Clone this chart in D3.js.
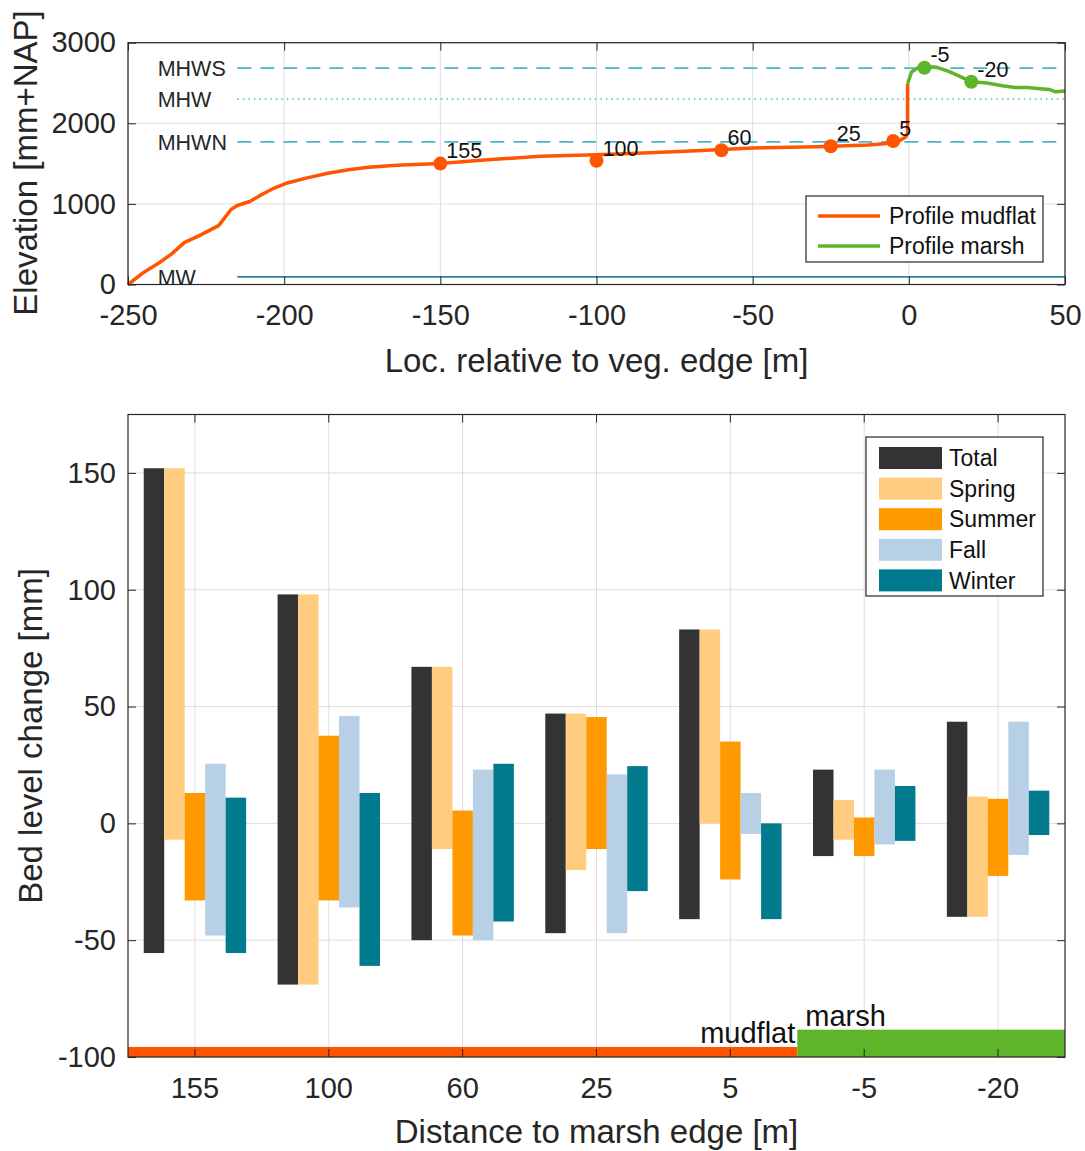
<!DOCTYPE html>
<html>
<head>
<meta charset="utf-8">
<script src="https://cdn.jsdelivr.net/npm/d3@7"></script>
<style>
  body { margin: 0; background: #fff; }
  svg { font-family: "Liberation Sans", Arial, Helvetica, sans-serif; }
  .grid line { stroke: #dedede; stroke-width: 1; }
  .axis text { fill: #262626; }
  .axis line { stroke: #262626; }
</style>
</head>
<body>
<svg id="chart"></svg>
<script>
// ---- top panel data: cross-shore profile ----
const profileMudflat = [[-250,0],[-245,150],[-240,270],[-236,380],[-232,520],[-227,610],[-221,730],[-219,830],[-217,930],[-215,980],[-211,1030],[-207,1120],[-203,1200],[-199,1260],[-193,1320],[-186,1380],[-180,1420],[-173,1455],[-164,1480],[-150,1500],[-136,1545],[-118,1590],[-100,1610],[-85,1630],[-68,1660],[-50,1695],[-29,1710],[-13,1730],[-7,1750],[-3,1785],[-1,1830],[-0.4,1880],[-0.4,2490]];
const profileMarsh = [[-0.4,2490],[0.9,2640],[3,2690],[6,2705],[9,2695],[13,2640],[17,2570],[20,2515],[25,2500],[30,2465],[34,2445],[38,2445],[42,2430],[45,2420],[47,2390],[50,2400]];
const markerX = [-150, -100, -60, -25, -5, 5, 20];
const markerY = [1500, 1535, 1665, 1715, 1780, 2690, 2515];
const markerLabels = ["155", "100", "60", "25", "5", "-5", "-20"];
const levelNames = ["MHWS", "MHW", "MHWN", "MW"];
const levelValues = [2685, 2300, 1770, 95];
const levelStyles = ["dash", "dot", "dash", "solid"];
const topXTicks = [-250, -200, -150, -100, -50, 0, 50];
const topYTicks = [0, 1000, 2000, 3000];

// ---- bottom panel data: bed level change ranges ----
const categories = ["155", "100", "60", "25", "5", "-5", "-20"];
const seasons = ["Total", "Spring", "Summer", "Fall", "Winter"];
const totalHigh  = [152, 98, 67, 47, 83, 23, 43.5];
const totalLow   = [-55.5, -69, -50, -47, -41, -14, -40];
const springHigh = [152, 98, 67, 47, 83, 10, 11.5];
const springLow  = [-7, -69, -11, -20, 0, -7, -40];
const summerHigh = [13, 37.5, 5.5, 45.5, 35, 2.5, 10.5];
const summerLow  = [-33, -33, -48, -11, -24, -14, -22.5];
const fallHigh   = [25.5, 46, 23, 21, 13, 23, 43.5];
const fallLow    = [-48, -36, -50, -47, -4.5, -9, -13.5];
const winterHigh = [11, 13, 25.5, 24.5, 0, 16, 14];
const winterLow  = [-55.5, -61, -42, -29, -41, -7.5, -5];
const zoneNames = ["mudflat", "marsh"];
const zoneFrom = ["155", "-5"];
const zoneTo = ["5", "-20"];
const zoneTop = [-95.7, -88.3];
const bottomYTicks = [-100, -50, 0, 50, 100, 150];

const seriesHigh = [totalHigh, springHigh, summerHigh, fallHigh, winterHigh];
const seriesLow = [totalLow, springLow, summerLow, fallLow, winterLow];
const seasonColors = ["#333333", "#ffcc80", "#ff9900", "#b7d0e6", "#007a8c"];
const orange = "#ff5500";
const green = "#5fb52a";
const textColor = "#262626";
const plainNum = d => String(d); // matlab style: hyphen minus, no thousands sep

const svg = d3.select("#chart")
    .attr("width", 1085)
    .attr("height", 1151);

svg.append("rect").attr("width", 1085).attr("height", 1151).attr("fill", "#fff");

// ================= TOP PANEL =================
var m1 = { left: 128, top: 42.7 };
var w1 = 937, h1 = 241.8;
const g1 = svg.append("g").attr("transform", `translate(${m1.left},${m1.top})`);

const x1 = d3.scaleLinear().domain([-250, 50]).range([0, w1]);
const y1 = d3.scaleLinear().domain([0, 3000]).range([h1, 0]);

// grid
g1.append("g").attr("class", "grid")
    .selectAll("line").data(topXTicks).join("line")
    .attr("x1", d => x1(d)).attr("x2", d => x1(d))
    .attr("y1", 0).attr("y2", h1);
g1.append("g").attr("class", "grid")
    .selectAll("line").data(topYTicks).join("line")
    .attr("x1", 0).attr("x2", w1)
    .attr("y1", d => y1(d)).attr("y2", d => y1(d));

// tide levels
levelNames.forEach(function (name, i) {
    const yy = y1(levelValues[i]);
    const ln = g1.append("line")
        .attr("x1", x1(-215)).attr("x2", w1)
        .attr("y1", yy).attr("y2", yy)
        .attr("stroke", levelStyles[i] == "solid" ? "#2a8396" : "#4fb4c8")
        .attr("stroke-width", levelStyles[i] == "dot" ? 1.5 : 1.8);
    if (levelStyles[i] == "dash") ln.attr("stroke-dasharray", "14,9");
    if (levelStyles[i] == "dot") ln.attr("stroke-dasharray", "1.5,4");
    g1.append("text")
        .attr("x", x1(-240.5))
        .attr("y", yy)
        .attr("dy", "0.36em")
        .attr("font-size", 21.5)
        .attr("fill", textColor)
        .text(name);
});

// profile lines
const line1 = d3.line().x(d => x1(d[0])).y(d => y1(d[1]));
g1.append("path").datum(profileMudflat)
    .attr("d", line1).attr("fill", "none")
    .attr("stroke", orange).attr("stroke-width", 3.5)
    .attr("stroke-linejoin", "round");
g1.append("path").datum(profileMarsh)
    .attr("d", line1).attr("fill", "none")
    .attr("stroke", green).attr("stroke-width", 3.5)
    .attr("stroke-linejoin", "round");

// markers + labels
markerX.forEach(function (mx, i) {
    g1.append("circle")
        .attr("cx", x1(mx)).attr("cy", y1(markerY[i]))
        .attr("r", 7)
        .attr("fill", mx < 0 ? orange : green);
    g1.append("text")
        .attr("x", x1(mx) + 6)
        .attr("y", y1(markerY[i]) - 13)
        .attr("dy", "0.36em")
        .attr("font-size", 21.5)
        .attr("fill", "#111")
        .text(markerLabels[i]);
});

// axes (ticks inside, box)
g1.append("g").attr("class", "axis")
    .attr("transform", `translate(0,${h1})`)
    .call(d3.axisBottom(x1).tickValues(topXTicks).tickFormat(plainNum).tickSize(-8).tickPadding(20))
    .call(g => g.select(".domain").remove())
    .selectAll("text").attr("font-size", 29).attr("font-family", null);
g1.append("g").attr("class", "axis")
    .call(d3.axisTop(x1).tickValues(topXTicks).tickSize(-8).tickFormat(""))
    .call(g => g.select(".domain").remove());
g1.append("g").attr("class", "axis")
    .call(d3.axisLeft(y1).tickValues(topYTicks).tickFormat(plainNum).tickSize(-8).tickPadding(12))
    .call(g => g.select(".domain").remove())
    .selectAll("text").attr("font-size", 29).attr("font-family", null);
g1.append("g").attr("class", "axis")
    .attr("transform", `translate(${w1},0)`)
    .call(d3.axisRight(y1).tickValues(topYTicks).tickSize(-8).tickFormat(""))
    .call(g => g.select(".domain").remove());
g1.append("rect")
    .attr("width", w1).attr("height", h1)
    .attr("fill", "none").attr("stroke", "#262626").attr("stroke-width", 1.2);

// legend top
const leg1 = g1.append("g").attr("transform", `translate(${806 - m1.left},${196 - m1.top})`);
leg1.append("rect").attr("width", 237).attr("height", 66)
    .attr("fill", "#fff").attr("stroke", "#262626").attr("stroke-width", 1.2);
[["Profile mudflat", orange], ["Profile marsh", green]].forEach(function (d, i) {
    const yy = 20 + i * 30;
    leg1.append("line").attr("x1", 12).attr("x2", 74)
        .attr("y1", yy).attr("y2", yy)
        .attr("stroke", d[1]).attr("stroke-width", 3.5);
    leg1.append("text").attr("x", 83).attr("y", yy).attr("dy", "0.36em")
        .attr("font-size", 23).attr("fill", "#111").text(d[0]);
});

// axis labels top
svg.append("text")
    .attr("x", m1.left + w1 / 2).attr("y", 360).attr("dy", "0.36em")
    .attr("text-anchor", "middle").attr("font-size", 33).attr("fill", textColor)
    .text("Loc. relative to veg. edge [m]");
svg.append("text")
    .attr("transform", "translate(25,163) rotate(-90)")
    .attr("dy", "0.36em")
    .attr("text-anchor", "middle").attr("font-size", 33).attr("fill", textColor)
    .text("Elevation [mm+NAP]");

// ================= BOTTOM PANEL =================
var m2 = { left: 128, top: 414.5 };
var w2 = 937, h2 = 642.5;
const g2 = svg.append("g").attr("transform", `translate(${m2.left},${m2.top})`);

const x2 = d3.scaleBand().domain(categories).range([0, w2]).padding(0);
const y2 = d3.scaleLinear().domain([-100, 175]).range([h2, 0]);
const groupW = x2.bandwidth() * 0.765;
const xs = d3.scaleBand().domain(seasons).range([-groupW / 2, groupW / 2]).padding(0);

// grid
g2.append("g").attr("class", "grid")
    .selectAll("line").data(categories).join("line")
    .attr("x1", d => x2(d) + x2.bandwidth() / 2).attr("x2", d => x2(d) + x2.bandwidth() / 2)
    .attr("y1", 0).attr("y2", h2);
g2.append("g").attr("class", "grid")
    .selectAll("line").data(bottomYTicks).join("line")
    .attr("x1", 0).attr("x2", w2)
    .attr("y1", d => y2(d)).attr("y2", d => y2(d));

// floating range bars
seasons.forEach(function (s, si) {
    g2.append("g")
        .selectAll("rect")
        .data(categories)
        .join("rect")
        .attr("x", (d, i) => x2(d) + x2.bandwidth() / 2 + xs(s))
        .attr("width", xs.bandwidth())
        .attr("y", (d, i) => y2(seriesHigh[si][i]))
        .attr("height", (d, i) => y2(seriesLow[si][i]) - y2(seriesHigh[si][i]))
        .attr("fill", seasonColors[si]);
});

// mudflat / marsh zones
zoneNames.forEach(function (z, i) {
    const xa = x2(zoneFrom[i]);
    const xb = x2(zoneTo[i]) + x2.bandwidth();
    g2.append("rect")
        .attr("x", xa).attr("width", xb - xa)
        .attr("y", y2(zoneTop[i]))
        .attr("height", y2(-100) - y2(zoneTop[i]))
        .attr("fill", i == 0 ? orange : green);
    g2.append("text")
        .attr("x", i == 0 ? xb - 2 : xa + 8)
        .attr("y", y2(zoneTop[i]) - 4)
        .attr("text-anchor", i == 0 ? "end" : "start")
        .attr("font-size", 29)
        .attr("fill", "#111")
        .text(z);
});

// axes
g2.append("g").attr("class", "axis")
    .attr("transform", `translate(0,${h2})`)
    .call(d3.axisBottom(x2).tickSize(-8).tickPadding(20))
    .call(g => g.select(".domain").remove())
    .selectAll("text").attr("font-size", 29).attr("font-family", null);
g2.append("g").attr("class", "axis")
    .call(d3.axisTop(x2).tickSize(-8).tickFormat(""))
    .call(g => g.select(".domain").remove());
g2.append("g").attr("class", "axis")
    .call(d3.axisLeft(y2).tickValues(bottomYTicks).tickFormat(plainNum).tickSize(-8).tickPadding(12))
    .call(g => g.select(".domain").remove())
    .selectAll("text").attr("font-size", 29).attr("font-family", null);
g2.append("g").attr("class", "axis")
    .attr("transform", `translate(${w2},0)`)
    .call(d3.axisRight(y2).tickValues(bottomYTicks).tickSize(-8).tickFormat(""))
    .call(g => g.select(".domain").remove());
g2.append("rect")
    .attr("width", w2).attr("height", h2)
    .attr("fill", "none").attr("stroke", "#262626").attr("stroke-width", 1.2);

// legend bottom
const leg2 = g2.append("g").attr("transform", `translate(${866 - m2.left},${437 - m2.top})`);
leg2.append("rect").attr("width", 177).attr("height", 159)
    .attr("fill", "#fff").attr("stroke", "#262626").attr("stroke-width", 1.2);
seasons.forEach(function (s, i) {
    const yy = 21 + i * 30.6;
    leg2.append("rect").attr("x", 13).attr("y", yy - 11)
        .attr("width", 63).attr("height", 22)
        .attr("fill", seasonColors[i]);
    leg2.append("text").attr("x", 83).attr("y", yy).attr("dy", "0.36em")
        .attr("font-size", 23).attr("fill", "#111").text(s);
});

// axis labels bottom
svg.append("text")
    .attr("x", m2.left + w2 / 2).attr("y", 1131).attr("dy", "0.36em")
    .attr("text-anchor", "middle").attr("font-size", 33).attr("fill", textColor)
    .text("Distance to marsh edge [m]");
svg.append("text")
    .attr("transform", "translate(30,736) rotate(-90)")
    .attr("dy", "0.36em")
    .attr("text-anchor", "middle").attr("font-size", 33).attr("fill", textColor)
    .text("Bed level change [mm]");
</script>
</body>
</html>
